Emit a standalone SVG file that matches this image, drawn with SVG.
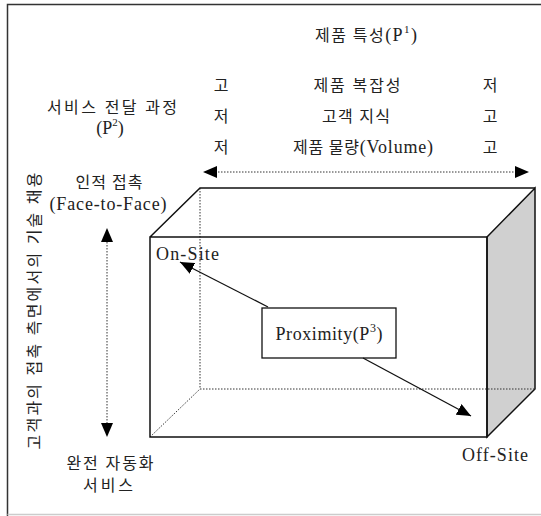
<svg xmlns="http://www.w3.org/2000/svg" width="541" height="516" viewBox="0 0 541 516">
<defs>
<style>
text{font-family:"Liberation Serif","Noto Sans CJK KR",serif;fill:#222;}
.k{font-size:16px;}
.l{font-size:18px;}
.solid{stroke:#111;stroke-width:1.5;fill:none;}
.dot{stroke:#333;stroke-width:1;stroke-dasharray:1.5 1.5;fill:none;}
.conn{stroke:#111;stroke-width:1.3;fill:none;}
</style>
<marker id="ah" viewBox="0 0 14 12" refX="14" refY="6" markerWidth="14" markerHeight="12" markerUnits="userSpaceOnUse" orient="auto">
<path d="M0,0 L14,6 L0,12 Z" fill="#000"/>
</marker>
</defs>
<rect width="541" height="516" fill="#fff"/>
<g id="frame">
<path d="M7.5,516 V4.5 H541" stroke="#333" stroke-width="1.5" fill="none"/>
<path d="M7.5,514.5 H541" stroke="#ccc" stroke-width="1.5" fill="none"/>
</g>
<g id="cube">
<polygon points="487,237 535,188 535,389 487,437" fill="#d0d0d0" stroke="#111" stroke-width="1.5"/>
<path class="dot" d="M200,188 V389 H535 M150,437 L200,389"/>
<path class="solid" d="M150,437 V237 H487 V437 Z M150,237 L200,188 H535"/>
</g>
<g id="title"><text class="k" x="366" y="41" text-anchor="middle" textLength="102">제품 특성<tspan class="l">(P</tspan><tspan font-size="11" dy="-8">1</tspan><tspan class="l" dy="8">)</tspan></text></g>
<g id="rows">
<text class="k" x="221" y="91" text-anchor="middle">고</text>
<text class="k" x="357" y="91" text-anchor="middle" textLength="87">제품 복잡성</text>
<text class="k" x="490" y="91" text-anchor="middle">저</text>
<text class="k" x="221" y="122" text-anchor="middle">저</text>
<text class="k" x="356" y="122" text-anchor="middle" textLength="68">고객 지식</text>
<text class="k" x="490" y="122" text-anchor="middle">고</text>
<text class="k" x="221" y="153" text-anchor="middle">저</text>
<text class="k" x="363" y="153" text-anchor="middle" textLength="140">제품 물량<tspan class="l">(Volume)</tspan></text>
<text class="k" x="490" y="153" text-anchor="middle">고</text>
</g>
<g id="p2">
<text class="k" x="112" y="113" text-anchor="middle" textLength="130">서비스 전달 과정</text>
<text class="l" x="110" y="134" text-anchor="middle">(P<tspan font-size="11" dy="-8">2</tspan><tspan dy="8">)</tspan></text>
</g>
<g id="face">
<text class="k" x="109" y="188" text-anchor="middle" textLength="67">인적 접촉</text>
<text class="l" x="108" y="210" text-anchor="middle" textLength="117">(Face-to-Face)</text>
</g>
<g id="auto">
<text class="k" x="110" y="469" text-anchor="middle" textLength="87">완전 자동화</text>
<text class="k" x="108" y="491" text-anchor="middle" textLength="50">서비스</text>
</g>
<g id="axis-label">
<text class="k" transform="translate(40,311) rotate(-90)" text-anchor="middle" textLength="277">고객과의 접촉 측면에서의 기술 채용</text>
</g>
<g id="onsite"><text class="l" x="156" y="260" textLength="63">On-Site</text></g>
<g id="offsite"><text class="l" x="462" y="461" textLength="66">Off-Site</text></g>
<g id="proximity">
<rect x="262" y="308" width="134" height="50" fill="#fff" stroke="#111" stroke-width="1.3"/>
<text class="l" x="329" y="340" text-anchor="middle" textLength="107">Proximity(P<tspan font-size="12" dy="-8">3</tspan><tspan dy="8">)</tspan></text>
</g>
<g id="connectors">
<path class="dot" d="M218,172 H515"/>
<path d="M217,166 L203,172 L217,178 Z" fill="#000"/>
<path d="M515,166 L529,172 L515,178 Z" fill="#000"/>
<path class="dot" d="M107,242 V423"/>
<path d="M101,242 L107,228 L113,242 Z" fill="#000"/>
<path d="M101,423 L107,437 L113,423 Z" fill="#000"/>
<line class="conn" x1="268" y1="307" x2="180" y2="262" marker-end="url(#ah)"/>
<line class="conn" x1="363" y1="358" x2="471" y2="416" marker-end="url(#ah)"/>
</g>
</svg>
